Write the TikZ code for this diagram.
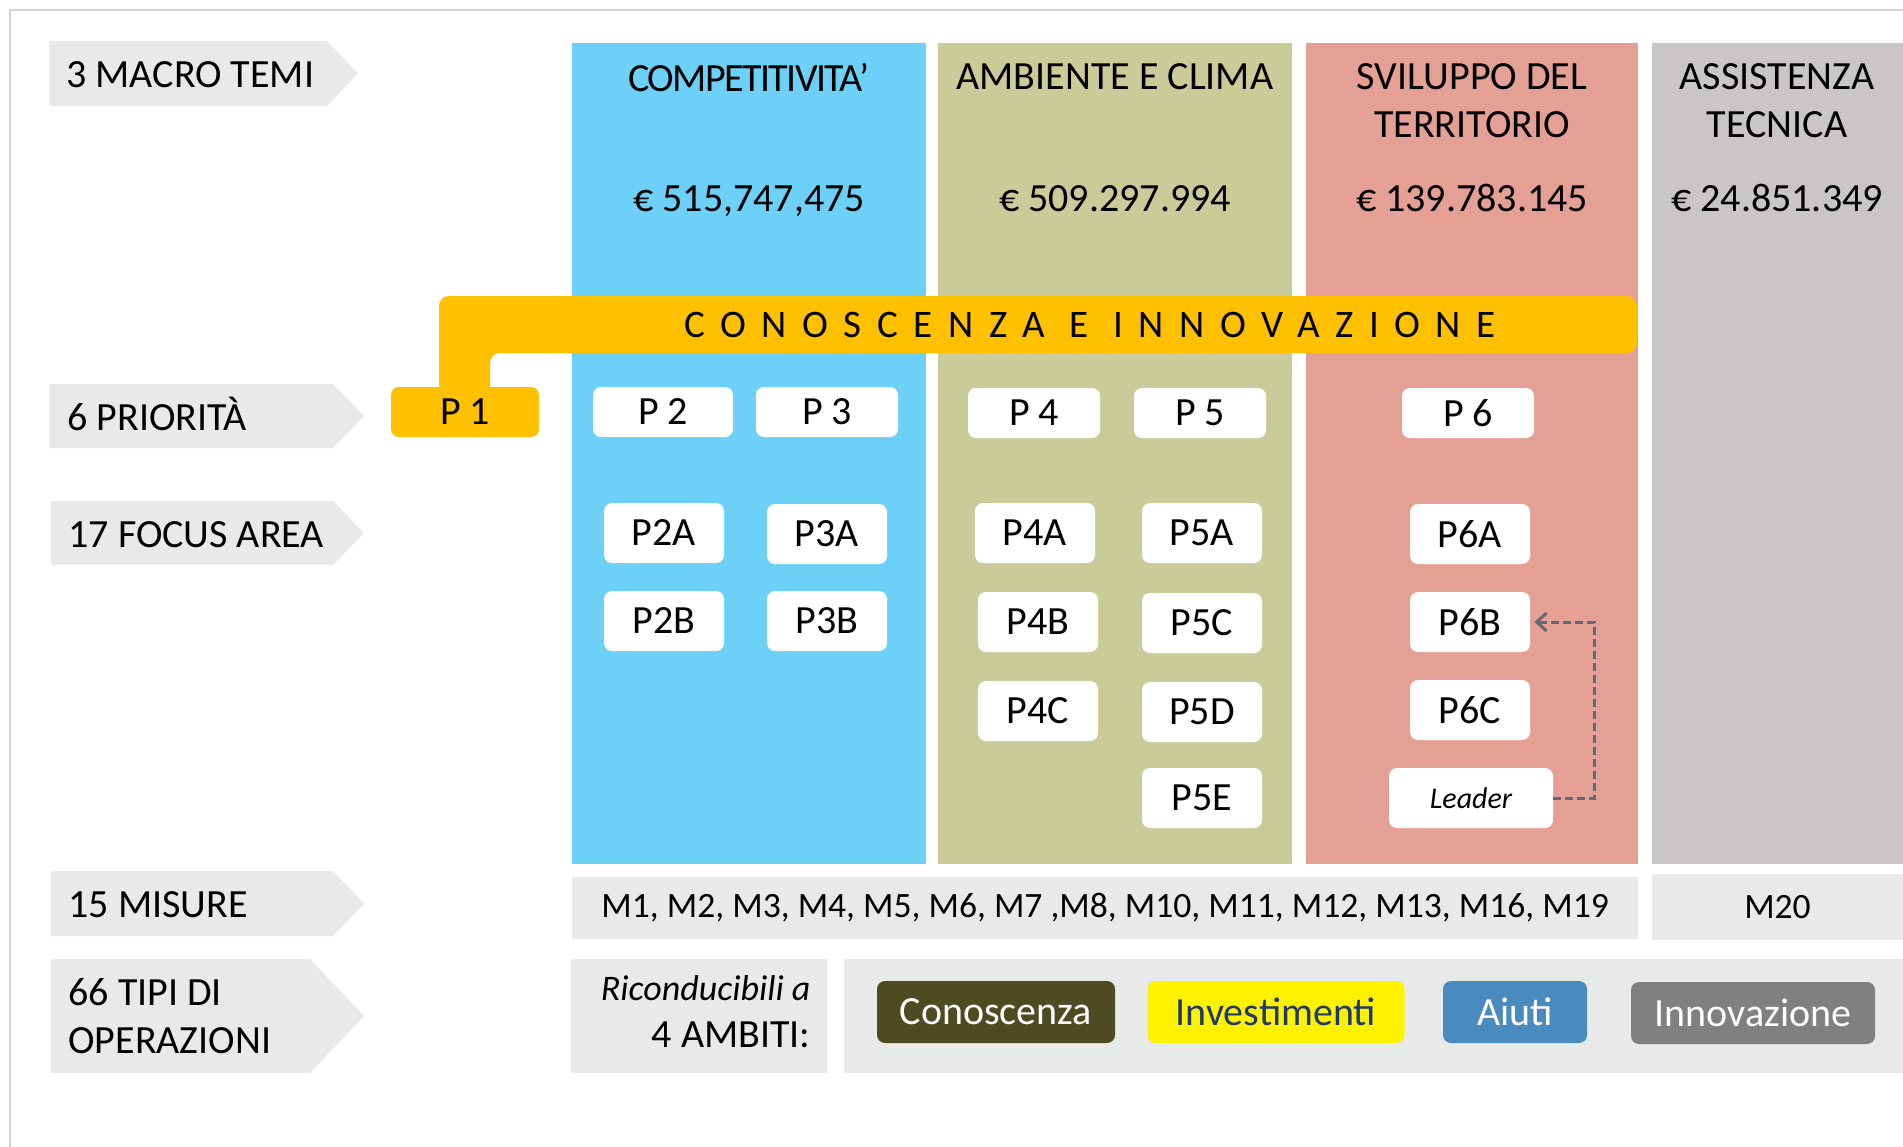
\documentclass[tikz,border=0pt]{standalone}
\usepackage{fontspec}
\setmainfont{Carlito}
\usepackage{tikz}
\usetikzlibrary{arrows.meta,positioning,calc}
\definecolor{framecolor}{RGB}{212,212,212}
\definecolor{tagcolor}{RGB}{232,234,233}
\definecolor{compcolor}{RGB}{109,208,246}
\definecolor{ambcolor}{RGB}{201,204,153}
\definecolor{svilcolor}{RGB}{229,160,150}
\definecolor{asscolor}{RGB}{202,197,199}
\definecolor{innocolor}{RGB}{255,192,0}
\definecolor{conocolor}{RGB}{77,75,34}
\definecolor{invtext}{RGB}{31,56,110}
\definecolor{aiuticolor}{RGB}{73,139,191}
\definecolor{innovcolor}{RGB}{128,128,128}
\definecolor{leadarrow}{RGB}{100,104,115}

\begin{document}
\begin{tikzpicture}[x=0.5pt,y=-0.5pt,
    every node/.style={inner sep=0pt, font=\fontsize{20}{24}\selectfont},
    pbox/.style={fill=white, rounded corners=4pt, minimum width=66pt, minimum height=25pt},
    fbox/.style={fill=white, rounded corners=4pt, minimum width=60pt, minimum height=30pt},
    panel/.style={fill=tagcolor},
    ambito/.style={rounded corners=4pt, minimum height=31pt, text=white},
    leadline/.style={leadarrow, line width=1.5pt, dash pattern=on 4pt off 2pt,
      -{Straight Barb[length=5pt,width=9pt]}, shorten >=2pt}]

    % page and frame
    \fill[white] (0,0) rectangle (1903,1147);
    \useasboundingbox (0,0) rectangle (1903,1147);
    \draw[framecolor, line width=0.8pt] (10,1147) -- (10,10) -- (1903,10);

    % row labels
    \fill[tagcolor] (49,41) -- (327,41) -- (358,73.5) -- (327,106) -- (49,106) -- cycle;
    \fill[tagcolor] (49,384) -- (333,384) -- (364,416) -- (333,448) -- (49,448) -- cycle;
    \fill[tagcolor] (51,501) -- (333,501) -- (364,533) -- (333,565) -- (51,565) -- cycle;
    \fill[tagcolor] (51,871) -- (333,871) -- (364,903.5) -- (333,936) -- (51,936) -- cycle;
    \fill[tagcolor] (51,959) -- (310,959) -- (364,1016) -- (310,1073) -- (51,1073) -- cycle;
    \node[anchor=base west] (macro) at (66,87) {3 MACRO TEMI};
    \node[anchor=base west] (prio) at (67,430) {6 PRIORITÀ};
    \node[anchor=base west] (focus) at (68,547) {17 FOCUS AREA};
    \node[anchor=base west] (misure) at (68,917) {15 MISURE};
    \node[anchor=north west, align=left] (tipi) at (68,978) {66 TIPI DI\\OPERAZIONI};

    % themes
    \fill[compcolor] (572,43) rectangle (926,864);
    \fill[ambcolor] (938,43) rectangle (1292,864);
    \fill[svilcolor] (1306,43) rectangle (1638,864);
    \fill[asscolor] (1652,43) rectangle (1903,864);
    \node[anchor=north, font=\fontsize{20}{24}\selectfont\addfontfeature{LetterSpace=-4}] (comp) at (749,63) {COMPETITIVITA’};
    \node[anchor=north] (amb) at (1115,63) {AMBIENTE E CLIMA};
    \node[anchor=north, align=center] (svil) at (1472,63) {SVILUPPO DEL\\TERRITORIO};
    \node[anchor=north, align=center] (ass) at (1777,63) {ASSISTENZA\\TECNICA};
    \node[anchor=base] (compval) at (749,211) {€ 515,747,475};
    \node[anchor=base] (ambval) at (1115,211) {€ 509.297.994};
    \node[anchor=base] (svilval) at (1472,211) {€ 139.783.145};
    \node[anchor=base] (assval) at (1777,211) {€ 24.851.349};

    % knowledge band
    \fill[innocolor, rounded corners=5pt] (439,395) -- (439,296) -- (1637,296)
      -- (1637,353) -- (490,353) -- (490,395) -- cycle;
    \node[font=\fontsize{19.5}{24}\selectfont\addfontfeature{LetterSpace=40}] (cei)
      at (1090,325) {CONOSCENZA E INNOVAZIONE};

    % priorities
    \node[pbox, fill=innocolor, minimum width=74pt] (p1) at (465,412) {P 1};
    \node[pbox, minimum width=70pt] (p2) at (663,412) {P 2};
    \node[pbox, minimum width=71pt] (p3) at (827,412) {P 3};
    \node[pbox] (p4) at (1034,413) {P 4};
    \node[pbox] (p5) at (1200,413) {P 5};
    \node[pbox] (p6) at (1468,413) {P 6};

    % focus areas
    \node[fbox] (p2a) at (664,533) {P2A};
    \node[fbox] (p3a) at (827,534) {P3A};
    \node[fbox] (p2b) at (664,621) {P2B};
    \node[fbox] (p3b) at (827,621) {P3B};
    \node[fbox] (p4a) at (1035,533) {P4A};
    \node[fbox] (p5a) at (1202,533) {P5A};
    \node[fbox] (p4b) at (1038,622) {P4B};
    \node[fbox] (p5c) at (1202,623) {P5C};
    \node[fbox] (p4c) at (1038,711) {P4C};
    \node[fbox] (p5d) at (1202,712) {P5D};
    \node[fbox] (p5e) at (1202,798) {P5E};
    \node[fbox] (p6a) at (1470,534) {P6A};
    \node[fbox] (p6b) at (1470,622) {P6B};
    \node[fbox] (p6c) at (1470,710) {P6C};
    \node[fbox, minimum width=82pt, font=\fontsize{15}{18}\selectfont\itshape] (leader) at (1471,798) {Leader};
    \draw[leadline] (leader.east) -- ++(41,0) |- (p6b.east);

    % measures
    \node[panel, minimum width=533pt, minimum height=31pt, font=\fontsize{17.8}{21}\selectfont] (mis)
      at (1105,908) {M1, M2, M3, M4, M5, M6, M7 ,M8, M10, M11, M12, M13, M16, M19};
    \node[panel, minimum width=125.5pt, minimum height=33pt, font=\fontsize{17.8}{21}\selectfont] (m20)
      at (1777.5,907) {M20};

    % types of operations
    \fill[tagcolor] (571,959) rectangle (827,1073);
    \fill[tagcolor] (844,959) rectangle (1903,1073);
    \node[anchor=base east, font=\fontsize{18}{22}\selectfont\itshape] (ric) at (811,1000) {Riconducibili a};
    \node[anchor=base east] (ambiti) at (811,1047) {4 AMBITI:};
    \node[ambito, fill=conocolor, minimum width=119pt] (cono) at (996,1012) {Conoscenza};
    \node[ambito, fill=yellow, text=invtext, minimum width=128.5pt] (inv) at (1276,1012) {Investimenti};
    \node[ambito, fill=aiuticolor, minimum width=72pt] (aiuti) at (1515,1012) {Aiuti};
    \node[ambito, fill=innovcolor, minimum width=122pt] (innov) at (1753,1013) {Innovazione};
\end{tikzpicture}
\end{document}
